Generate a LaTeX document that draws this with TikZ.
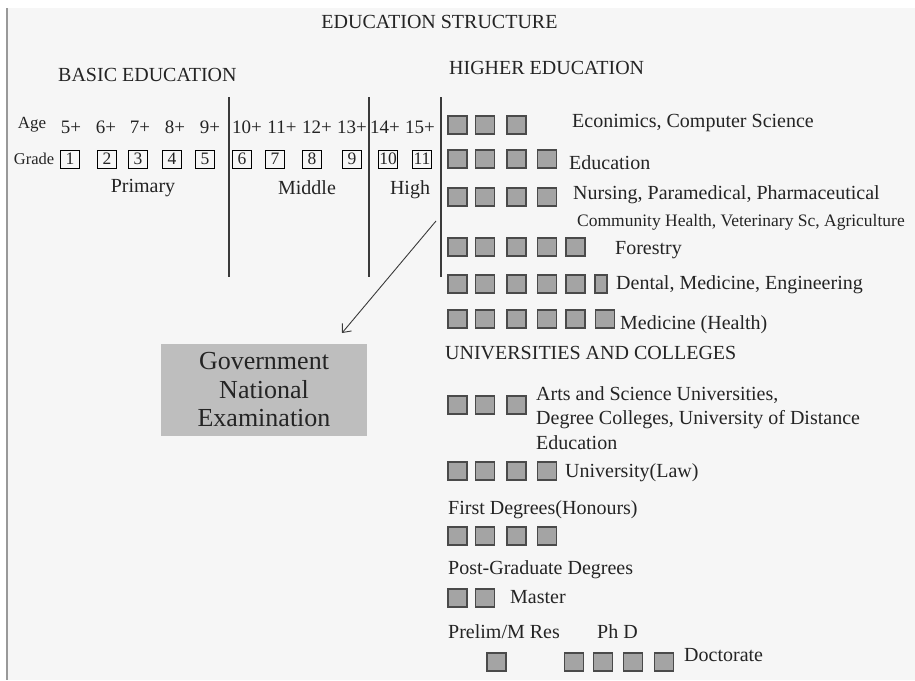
\documentclass[tikz,border=0pt]{standalone}
\usepackage{fontspec}
\setmainfont{Liberation Serif}
\usetikzlibrary{arrows.meta}
\newcommand\myfs[1]{\fontsize{#1}{#1}\selectfont}
\definecolor{bgc}{HTML}{F6F6F6}
\definecolor{txc}{HTML}{242424}
\definecolor{sqf}{HTML}{A4A4A4}
\definecolor{sqd}{HTML}{4A4A4A}
\definecolor{govf}{HTML}{BEBEBE}
\definecolor{linec}{HTML}{3A3A3A}
\begin{document}
\begin{tikzpicture}[x=1pt,y=-1pt,
  every node/.style={text=txc, inner sep=0pt},
  txt/.style={anchor=west, font=\myfs{20}},
  sq/.style={draw=sqd, fill=sqf, line width=1.1pt, minimum width=19pt, minimum height=18pt},
  gbox/.style={draw=black, line width=0.7pt, minimum width=19pt, minimum height=18pt, font=\myfs{17.5}},
  age/.style={font=\myfs{19}},
  vline/.style={draw=linec, line width=1.4pt}]
\useasboundingbox (0,0) rectangle (915,680);
\fill[white] (0,0) rectangle (915,680);
\fill[bgc] (7,8) rectangle (915,680);
\draw[black!40, line width=1.5pt] (7,8) -- (7,680);

% headings
\node[font=\myfs{20}] (title) at (439.5,22) {EDUCATION STRUCTURE};
\node[txt] (basic) at (58,75) {BASIC EDUCATION};
\node[txt] (higher) at (449,68) {HIGHER EDUCATION};

% age and grade rows
\node[font=\myfs{17}] (agel) at (32,125) {Age};
\node[font=\myfs{16.5}] (gradel) at (34,159) {Grade};
\foreach \n/\x in {5/71,6/106,7/140,8/175,9/210,10/247,11/282,12/317,13/352,14/385,15/420}
  \node[age] (a\n) at (\x,127) {\n+};
\foreach \n/\x in {1/70,2/107,3/138,4/172,5/205,6/242,7/275,8/312,9/352,10/388,11/422}
  \node[gbox] (g\n) at (\x,159) {\n};
\node[font=\myfs{20}] (prim) at (143,188) {Primary};
\node[font=\myfs{20}] (midd) at (307,188) {Middle};
\node[font=\myfs{20}] (high) at (410,190) {High};

% separators
\draw[vline] (229,97) -- (229,277);
\draw[vline] (369,97) -- (369,277);
\draw[vline] (441,97) -- (441,277);

% higher education rows
\foreach \i/\x in {1/457.5,2/485,3/516.5}
  \node[sq] (eco\i) at (\x,125) {};
\node[txt] (econ) at (572,123) {Econimics, Computer Science};
\foreach \i/\x in {1/457.5,2/485,3/516.5,4/547}
  \node[sq] (edu\i) at (\x,159) {};
\node[txt] (educ) at (569,163) {Education};
\foreach \i/\x in {1/457.5,2/485,3/516.5,4/547}
  \node[sq] (nur\i) at (\x,197) {};
\node[txt] (nurs) at (573,195) {Nursing, Paramedical, Pharmaceutical};
\node[txt, font=\myfs{17.5}] (comm) at (577,222) {Community Health, Veterinary Sc, Agriculture};
\foreach \i/\x in {1/457.5,2/485,3/516.5,4/547,5/575.5}
  \node[sq] (for\i) at (\x,247) {};
\node[txt] (fore) at (615,250) {Forestry};
\foreach \i/\x in {1/457.5,2/485,3/516.5,4/547,5/575.5}
  \node[sq] (den\i) at (\x,284) {};
\node[sq, minimum width=12pt] (den6) at (601,284) {};
\node[txt] (dent) at (616,285) {Dental, Medicine, Engineering};
\foreach \i/\x in {1/457.5,2/485,3/516.5,4/547,5/575.5,6/605}
  \node[sq] (med\i) at (\x,319) {};
\node[txt] (medh) at (620,325) {Medicine (Health)};

% universities
\node[txt] (univ) at (445,353) {UNIVERSITIES AND COLLEGES};
\foreach \i/\x in {1/457.5,2/485,3/516.5}
  \node[sq] (art\i) at (\x,405) {};
\node[txt, align=left, font=\fontsize{20}{24.5}\selectfont] (arts) at (536,418)
  {Arts and Science Universities,\\Degree Colleges, University of Distance\\Education};
\foreach \i/\x in {1/457.5,2/485,3/516.5,4/547}
  \node[sq] (law\i) at (\x,471) {};
\node[txt] (law) at (565,473) {University(Law)};
\node[txt] (first) at (448,510) {First Degrees(Honours)};
\foreach \i/\x in {1/457.5,2/485,3/516.5,4/547}
  \node[sq] (fst\i) at (\x,536) {};
\node[txt] (post) at (448,570) {Post-Graduate Degrees};
\foreach \i/\x in {1/457.5,2/485}
  \node[sq] (mas\i) at (\x,598) {};
\node[txt] (mast) at (510,597) {Master};
\node[txt] (prel) at (448,632) {Prelim/M Res};
\node[txt] (phd) at (597,632) {Ph D};
\node[sq] (pre1) at (496.5,662) {};
\foreach \i/\x in {1/574,2/603,3/633,4/664}
  \node[sq] (doc\i) at (\x,662) {};
\node[txt] (doct) at (684,655) {Doctorate};

% examination box and arrow
\node[fill=govf, minimum width=206pt, minimum height=92pt, align=center,
      font=\fontsize{26}{28.5}\selectfont] (gov) at (264,390) {Government\\National\\Examination};
\coordinate (arrS) at (436,221);
\coordinate (arrE) at (342,333);
\draw[line width=0.9pt, draw=linec, -{Straight Barb[length=7pt,width=12pt]}] (arrS) -- (arrE);
\end{tikzpicture}
\end{document}
